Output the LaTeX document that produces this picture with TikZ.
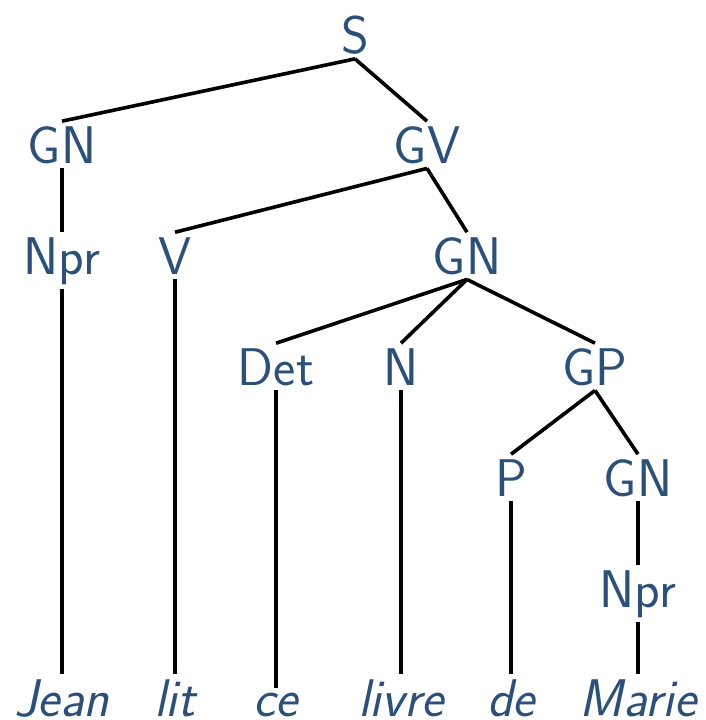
\documentclass[tikz,border=0pt]{standalone}
\usepackage{fontspec}
\definecolor{nodeblue}{RGB}{44,80,119}
\begin{document}
\begin{tikzpicture}[x=0.5pt,y=-0.5pt,
  lab/.style={anchor=base,inner sep=2.3pt,text=nodeblue,font=\fontsize{26.5}{30}\selectfont\sffamily},
  word/.style={lab,font=\fontsize{26.5}{30}\selectfont\sffamily\itshape},
  edge/.style={line width=1.8pt,black}]
\useasboundingbox (0,0) rectangle (706,720);
\node[lab] (S) at (355,53) {S};
\node[lab] (GNa) at (62,163) {GN};
\node[lab] (GV) at (427,163) {GV};
\node[lab] (Npra) at (62,274) {Npr};
\node[lab] (V) at (175,274) {V};
\node[lab] (GNb) at (467,274) {GN};
\node[lab] (Det) at (276,385) {Det};
\node[lab] (N) at (401,385) {N};
\node[lab] (GP) at (595,385) {GP};
\node[lab] (P) at (511,496) {P};
\node[lab] (GNc) at (638,496) {GN};
\node[lab] (Nprb) at (638,607) {Npr};
\node[word] (w1) at (62,716) {Jean};
\node[word] (w2) at (175,716) {lit};
\node[word] (w3) at (276,716) {ce};
\node[word] (w4) at (401,716) {livre};
\node[word] (w5) at (511,716) {de};
\node[word] (w6) at (638,716) {Marie};
\draw[edge] (S.south) -- (GNa.north);
\draw[edge] (S.south) -- (GV.north);
\draw[edge] (GNa.south) -- (Npra.north);
\draw[edge] (Npra.south) -- (w1.north);
\draw[edge] (GV.south) -- (V.north);
\draw[edge] (GV.south) -- (GNb.north);
\draw[edge] (V.south) -- (w2.north);
\draw[edge] (GNb.south) -- (Det.north);
\draw[edge] (GNb.south) -- (N.north);
\draw[edge] (GNb.south) -- (GP.north);
\draw[edge] (Det.south) -- (w3.north);
\draw[edge] (N.south) -- (w4.north);
\draw[edge] (GP.south) -- (P.north);
\draw[edge] (GP.south) -- (GNc.north);
\draw[edge] (P.south) -- (w5.north);
\draw[edge] (GNc.south) -- (Nprb.north);
\draw[edge] (Nprb.south) -- (w6.north);
\end{tikzpicture}
\end{document}
